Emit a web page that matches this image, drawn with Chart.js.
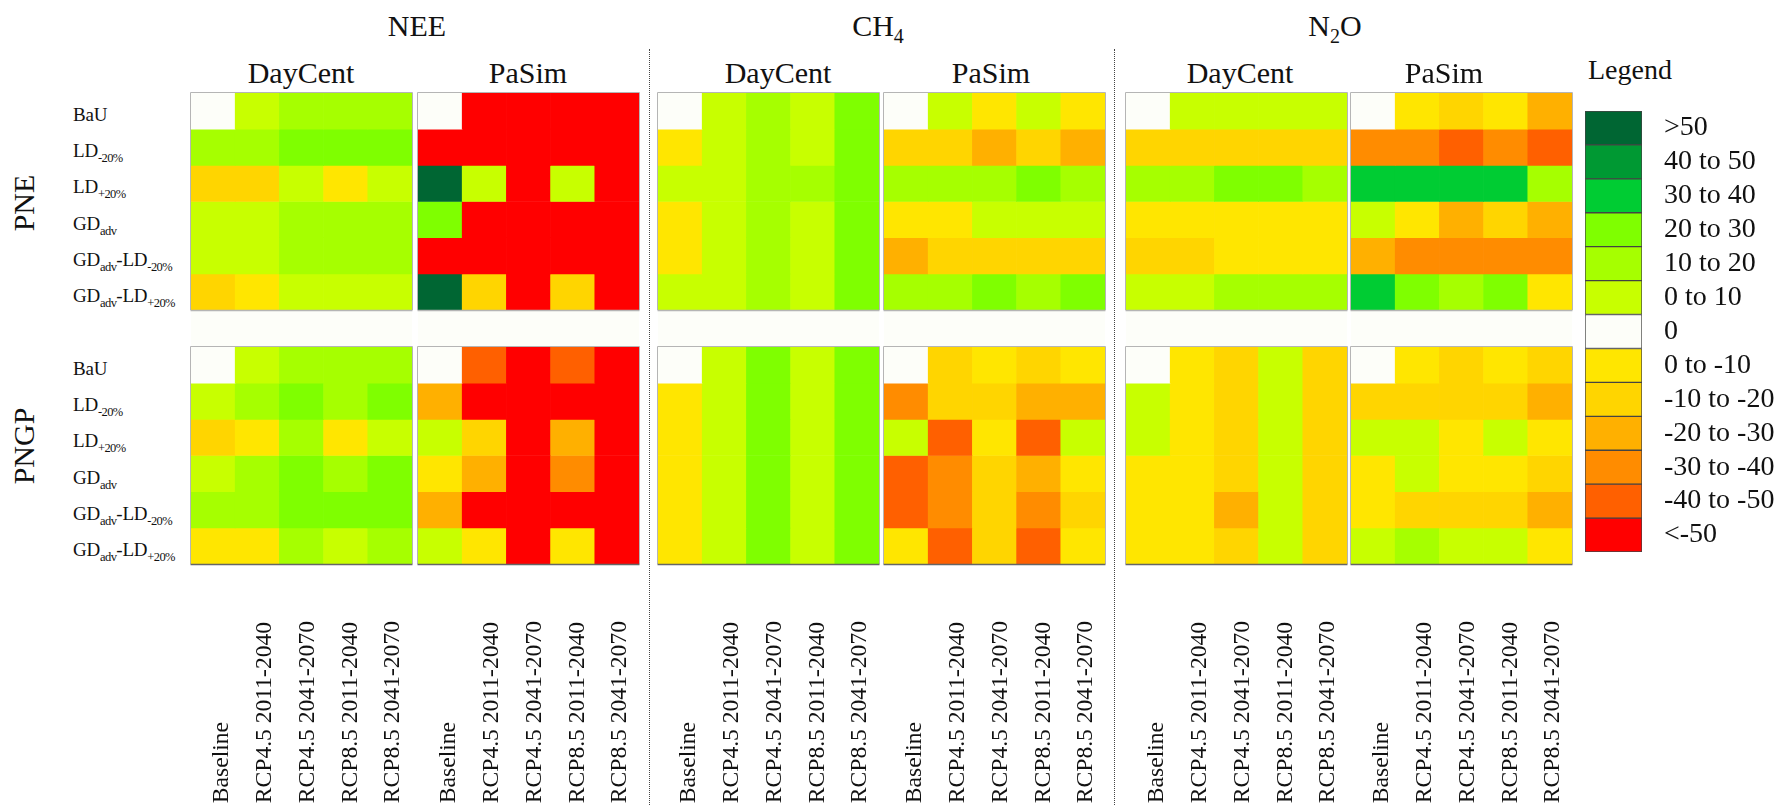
<!DOCTYPE html>
<html><head><meta charset="utf-8">
<style>
html,body{margin:0;padding:0;background:#fff;width:1783px;height:805px;overflow:hidden}
body{position:relative;font-family:"Liberation Serif",serif;color:#111}
canvas{position:absolute;display:block}
.t{position:absolute;white-space:nowrap;line-height:1}
.c{transform:translate(-50%,-50%);font-size:30px}
.c sub{font-size:20px;vertical-align:-7px;line-height:0}
.r{transform:translateY(-50%);font-size:19px;left:73px;letter-spacing:-.2px}
.r sub{font-size:12.5px;vertical-align:-5px;line-height:0;letter-spacing:-.6px}
.v{transform:translate(-50%,-50%) rotate(-90deg);font-size:30px}
.d{position:absolute;top:49px;height:756px;width:0;border-left:1.5px dotted #444}
.s{position:absolute;top:310px;height:37px;background:#fdfef9}
</style>
<script src="https://cdn.jsdelivr.net/npm/chart.js@4"></script>
</head><body>
<script>
const FONT = '"Liberation Serif", serif';
const columnLabels = ['Baseline','RCP4.5 2011-2040','RCP4.5 2041-2070','RCP8.5 2011-2040','RCP8.5 2041-2070'];
const rowLabels = [
  [['BaU','']],
  [['LD','-20%']],
  [['LD','+20%']],
  [['GD','adv']],
  [['GD','adv'],['-LD','-20%']],
  [['GD','adv'],['-LD','+20%']]
];
const legendLabels = ['>50','40 to 50','30 to 40','20 to 30','10 to 20','0 to 10','0','0 to -10','-10 to -20','-20 to -30','-30 to -40','-40 to -50','<-50'];
const legendColors = ['#006633','#009933','#00cc33','#7fff00','#a6ff00','#c8ff00','#fdfef9','#ffe600','#ffd500','#ffb000','#ff8c00','#ff6000','#ff0000'];
const legendBins = [55,45,35,25,15,5,0,-5,-15,-25,-35,-45,-55];

const NEE_DayCent_PNE = [[0,5,15,15,15],[15,15,25,25,25],[-15,-15,5,-5,5],[5,5,15,15,15],[5,5,15,15,15],[-15,-5,5,5,5]];
const NEE_PaSim_PNE = [[0,-55,-55,-55,-55],[-55,-55,-55,-55,-55],[55,5,-55,5,-55],[25,-55,-55,-55,-55],[-55,-55,-55,-55,-55],[55,-15,-55,-15,-55]];
const CH4_DayCent_PNE = [[0,5,15,5,25],[-5,5,15,5,25],[5,5,15,15,25],[-5,5,15,5,25],[-5,5,15,5,25],[5,5,15,5,25]];
const CH4_PaSim_PNE = [[0,5,-5,5,-5],[-15,-15,-25,-15,-25],[15,15,15,25,15],[-5,-5,5,5,5],[-25,-15,-15,-15,-15],[15,15,25,15,25]];
const N2O_DayCent_PNE = [[0,5,5,5,5],[-15,-15,-15,-15,-15],[15,15,25,25,15],[-5,-5,-5,-5,-5],[-15,-15,-5,-5,-5],[5,5,15,15,15]];
const N2O_PaSim_PNE = [[0,-5,-15,-5,-25],[-35,-35,-45,-35,-45],[35,35,35,35,15],[5,-5,-25,-15,-25],[-25,-35,-35,-35,-35],[35,25,15,25,-5]];
const NEE_DayCent_PNGP = [[0,5,15,15,15],[5,15,25,15,25],[-15,-5,15,-5,5],[5,15,25,15,25],[15,15,25,25,25],[-5,-5,15,5,15]];
const NEE_PaSim_PNGP = [[0,-45,-55,-45,-55],[-25,-55,-55,-55,-55],[5,-15,-55,-25,-55],[-5,-25,-55,-35,-55],[-25,-55,-55,-55,-55],[5,-5,-55,-5,-55]];
const CH4_DayCent_PNGP = [[0,5,25,5,25],[-5,5,25,5,25],[-5,5,25,5,25],[-5,5,25,5,25],[-5,5,25,5,25],[-5,5,25,5,25]];
const CH4_PaSim_PNGP = [[0,-15,-5,-15,-5],[-35,-15,-15,-25,-25],[5,-45,-5,-45,5],[-45,-35,-15,-25,-5],[-45,-35,-15,-35,-15],[-5,-45,-15,-45,-5]];
const N2O_DayCent_PNGP = [[0,-5,-15,5,-15],[5,-5,-15,5,-15],[5,-5,-15,5,-15],[-5,-5,-15,5,-15],[-5,-5,-25,5,-15],[-5,-5,-15,5,-15]];
const N2O_PaSim_PNGP = [[0,-5,-15,-5,-15],[-15,-15,-15,-15,-25],[5,5,-5,5,-5],[-5,5,-5,-5,-15],[-5,-15,-15,-15,-25],[5,15,5,5,-5]];

const panelLefts = [191,418,658,884,1126,1351];
const panelWidth = 221;
const rowTops = [93,347];
const panelHeight = 217;
const panels = [
  [NEE_DayCent_PNE,NEE_PaSim_PNE,CH4_DayCent_PNE,CH4_PaSim_PNE,N2O_DayCent_PNE,N2O_PaSim_PNE],
  [NEE_DayCent_PNGP,NEE_PaSim_PNGP,CH4_DayCent_PNGP,CH4_PaSim_PNGP,N2O_DayCent_PNGP,N2O_PaSim_PNGP]
];

function colorOf(v){ return legendColors[legendBins.indexOf(v)]; }
function mount(l,t,w,h){
  const c=document.createElement('canvas');
  c.style.left=l+'px'; c.style.top=t+'px'; c.style.width=w+'px'; c.style.height=h+'px';
  c.width=w; c.height=h; document.body.appendChild(c); return c;
}
function text(cls,x,y,html){
  const d=document.createElement('div'); d.className='t '+cls;
  if(x!==null)d.style.left=x+'px'; d.style.top=y+'px'; d.innerHTML=html; document.body.appendChild(d);
}
const frame = (bottomColor)=>({id:'frame',afterDraw(ch){
  const a=ch.chartArea,x=ch.ctx; x.save(); x.lineWidth=1;
  x.strokeStyle='#b5b5b5'; x.beginPath();
  x.moveTo(a.left-.5,a.bottom); x.lineTo(a.left-.5,a.top-.5); x.lineTo(a.right+.5,a.top-.5); x.lineTo(a.right+.5,a.bottom); x.stroke();
  x.strokeStyle=bottomColor; x.lineWidth=1.5; x.beginPath(); x.moveTo(a.left-.5,a.bottom+.5); x.lineTo(a.right+.5,a.bottom+.5); x.stroke();
  x.restore();
}});

// off-white strip between the two rows
panelLefts.forEach(l=>{const s=document.createElement('div');s.className='s';s.style.left=l+'px';s.style.width=panelWidth+'px';document.body.appendChild(s);});

// heat panels
panels.forEach((row,ri)=>row.forEach((grid,pi)=>{
  const cv=mount(panelLefts[pi]-3,rowTops[ri]-3,panelWidth+6,panelHeight+6);
  new Chart(cv,{
    type:'bar',
    data:{labels:columnLabels,datasets:grid.map((vals,i)=>({
      label:rowLabels[i].map(p=>p.join('')).join(''),
      data:vals.map(()=>1),
      backgroundColor:vals.map(colorOf),
      borderWidth:0,categoryPercentage:1,barPercentage:1
    }))},
    options:{responsive:false,animation:false,devicePixelRatio:1,layout:{padding:3},
      plugins:{legend:{display:false},tooltip:{enabled:false}},
      scales:{x:{display:false,stacked:true,offset:true},y:{display:false,stacked:true,reverse:true,min:0,max:6}}},
    plugins:[frame(ri===0?'#b5b5b5':'#666')]
  });
}));

// rotated column labels (separate charts whose axis sits on the bottom line)
const LABEL_BASE=803, LABEL_H=500;
panelLefts.forEach(l=>{
  const cv=mount(l+8,0,244,LABEL_H);
  const ch=new Chart(cv,{
    type:'bar',
    data:{labels:columnLabels,datasets:[{data:[]}]},
    options:{responsive:false,animation:false,devicePixelRatio:1,layout:{padding:{left:30,right:0,top:0,bottom:0}},
      plugins:{legend:{display:false},tooltip:{enabled:false}},
      scales:{
        x:{position:'top',offset:true,grid:{display:false,drawTicks:false},border:{display:false},
           ticks:{autoSkip:false,minRotation:90,maxRotation:90,padding:0,color:'#111',font:{family:FONT,size:23.6}}},
        y:{display:false}
      }}
  });
  cv.style.top=(LABEL_BASE-ch.chartArea.top)+'px';
});

// legend
const lg=mount(1584,110,199,443);
new Chart(lg,{
  type:'bar',
  data:{labels:legendLabels,datasets:[{data:legendLabels.map(()=>1),backgroundColor:legendColors,borderColor:'#444',borderWidth:1,borderSkipped:false,categoryPercentage:1,barPercentage:1}]},
  options:{indexAxis:'y',responsive:false,animation:false,devicePixelRatio:1,layout:{padding:{left:1,top:1,bottom:1,right:0}},
    plugins:{legend:{display:false},tooltip:{enabled:false}},
    scales:{
      x:{display:false,min:0,max:1},
      y:{position:'right',grid:{display:false,drawTicks:false},border:{display:false},afterFit(s){s.width=141;s.paddingTop=0;s.paddingBottom=0;},
         ticks:{autoSkip:false,crossAlign:'near',padding:22,color:'#111',font:{family:FONT,size:28}}}
    }}
});

// titles
text('c',417,26,'NEE'); text('c',878,26,'CH<sub>4</sub>'); text('c',1335,26,'N<sub>2</sub>O');
[301,778,1240].forEach(x=>text('c',x,73,'DayCent'));
[528,991,1444].forEach(x=>text('c',x,73,'PaSim'));
text('c',1630,70,'Legend'); document.body.lastChild.style.fontSize='28px';
text('v',24,203,'PNE'); text('v',24,446,'PNGP');
rowTops.forEach(top=>rowLabels.forEach((parts,i)=>{
  text('r',null,top+3+(i+.5)*panelHeight/6,parts.map(p=>p[0]+(p[1]?'<sub>'+p[1]+'</sub>':'')).join(''));
}));
[649,1114].forEach(x=>{const d=document.createElement('div');d.className='d';d.style.left=x+'px';document.body.appendChild(d);});
</script>
</body></html>
